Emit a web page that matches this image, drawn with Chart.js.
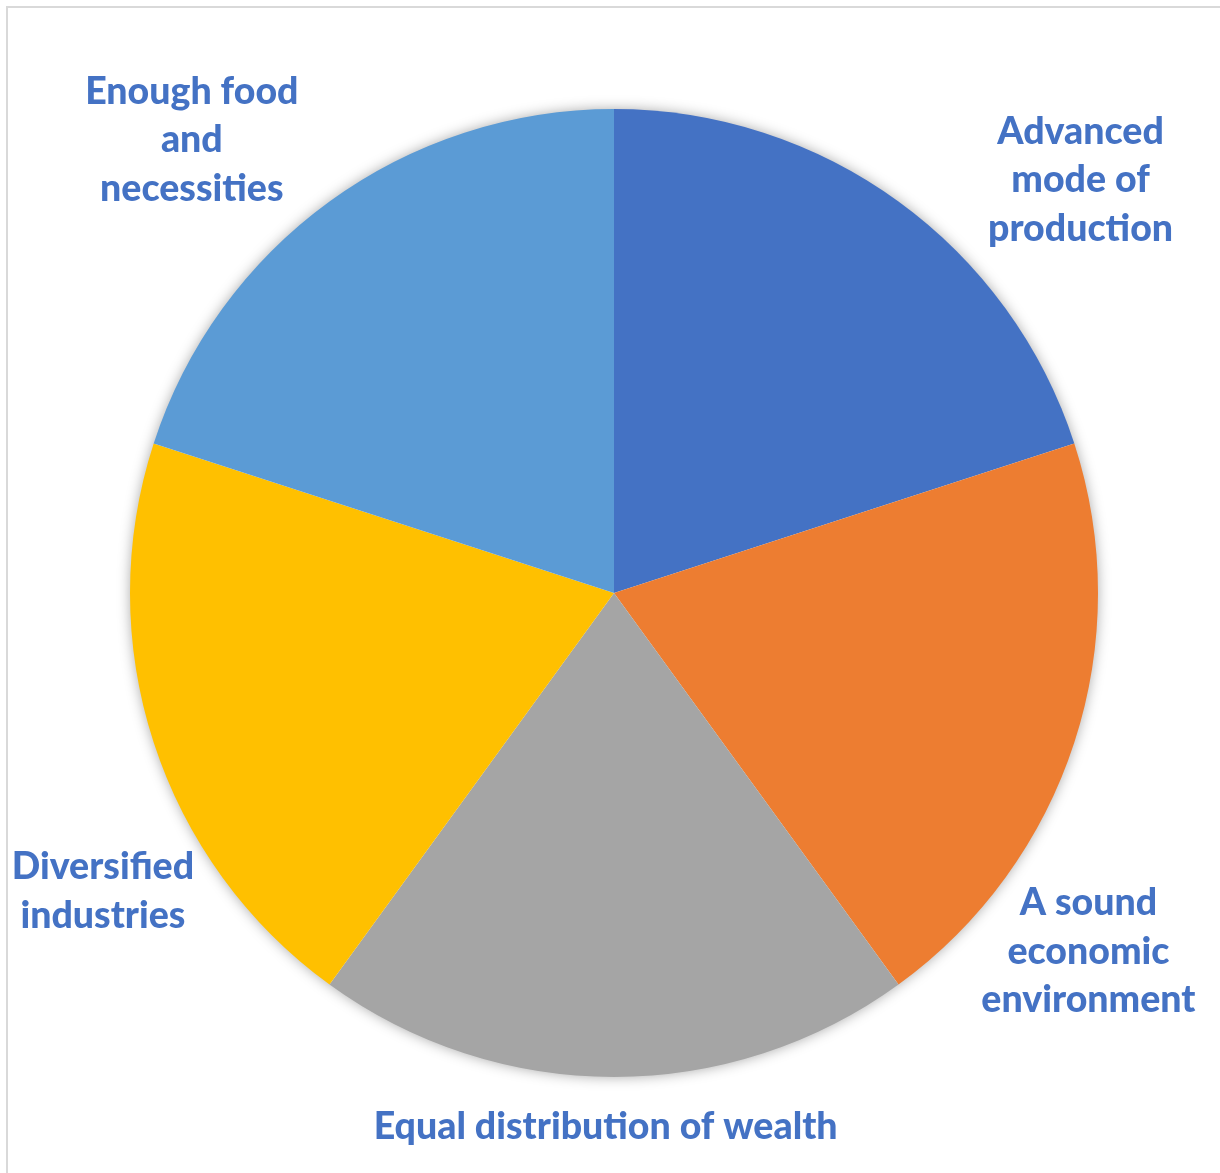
<!DOCTYPE html>
<html>
<head>
<meta charset="utf-8">
<script src="https://cdn.jsdelivr.net/npm/chart.js@4.4.1/dist/chart.umd.min.js"></script>
<style>
  html, body { margin: 0; padding: 0; background: #fff; }
  #wrap { position: relative; width: 1220px; height: 1173px; }
</style>
</head>
<body>
<div id="wrap"><canvas id="pie-chart" width="1220" height="1173"></canvas></div>
<script>
// Factors of a developed economy, equal shares
const categories = [
  ['Advanced', 'mode of', 'production'],
  ['A sound', 'economic', 'environment'],
  ['Equal distribution of wealth'],
  ['Diversified', 'industries'],
  ['Enough food', 'and', 'necessities']
];
const shares = [20, 20, 20, 20, 20];
const sliceColors = ['#4472C4', '#ED7D31', '#A5A5A5', '#FFC000', '#5B9BD5'];

// where each label sits around the pie: angle shift (deg) from slice middle, distance in radii
const labelSpots = [
  { dAngle: 12.5, dist: 1.287 },
  { dAngle: 19.1, dist: 1.229 },
  { dAngle: 0.9, dist: 1.103 },
  { dAngle: -12.3, dist: 1.223 },
  { dAngle: -7, dist: 1.279 }
];

const LABEL_FONT = '900 37.5px Lato, "Open Sans", sans-serif';
const LABEL_LINE = 48.5;

// outer frame + soft shadow under the pie
const pieBackdrop = {
  id: 'pieBackdrop',
  beforeDraw(chart) {
    const ctx = chart.ctx;
    ctx.save();
    ctx.strokeStyle = '#d9d9d9';
    ctx.lineWidth = 2;
    ctx.beginPath();
    ctx.moveTo(7, chart.height);
    ctx.lineTo(7, 7);
    ctx.lineTo(chart.width, 7);
    ctx.stroke();
    ctx.restore();
  },
  beforeDatasetsDraw(chart) {
    const arc = chart.getDatasetMeta(0).data[0];
    if (!arc) return;
    const ctx = chart.ctx;
    ctx.save();
    ctx.shadowColor = 'rgba(0,0,0,0.38)';
    ctx.shadowBlur = 14;
    ctx.fillStyle = '#fff';
    ctx.beginPath();
    ctx.arc(arc.x, arc.y, arc.outerRadius - 1, 0, Math.PI * 2);
    ctx.fill();
    ctx.restore();
  }
};

// category names placed outside each slice
const outsideLabels = {
  id: 'outsideLabels',
  afterDatasetsDraw(chart) {
    const ctx = chart.ctx;
    const meta = chart.getDatasetMeta(0);
    ctx.save();
    ctx.font = LABEL_FONT;
    ctx.fillStyle = '#4472C4';
    ctx.textAlign = 'center';
    ctx.textBaseline = 'middle';
    meta.data.forEach((arc, i) => {
      const spot = labelSpots[i];
      const mid = (arc.startAngle + arc.endAngle) / 2 + spot.dAngle * Math.PI / 180;
      const r = arc.outerRadius * spot.dist;
      const cx = arc.x + Math.cos(mid) * r;
      const cy = arc.y + Math.sin(mid) * r;
      const lines = categories[i];
      const top = cy - (lines.length - 1) * LABEL_LINE / 2;
      lines.forEach((t, k) => ctx.fillText(t, cx, top + k * LABEL_LINE));
    });
    ctx.restore();
  }
};

new Chart(document.getElementById('pie-chart').getContext('2d'), {
  type: 'pie',
  data: {
    labels: categories.map(c => c.join(' ')),
    datasets: [{
      data: shares,
      backgroundColor: sliceColors,
      borderWidth: 0
    }]
  },
  options: {
    responsive: false,
    animation: false,
    layout: { padding: { left: 130, right: 122, top: 109, bottom: 96 } },
    plugins: {
      legend: { display: false },
      tooltip: { enabled: false }
    }
  },
  plugins: [pieBackdrop, outsideLabels]
});
</script>
</body>
</html>
